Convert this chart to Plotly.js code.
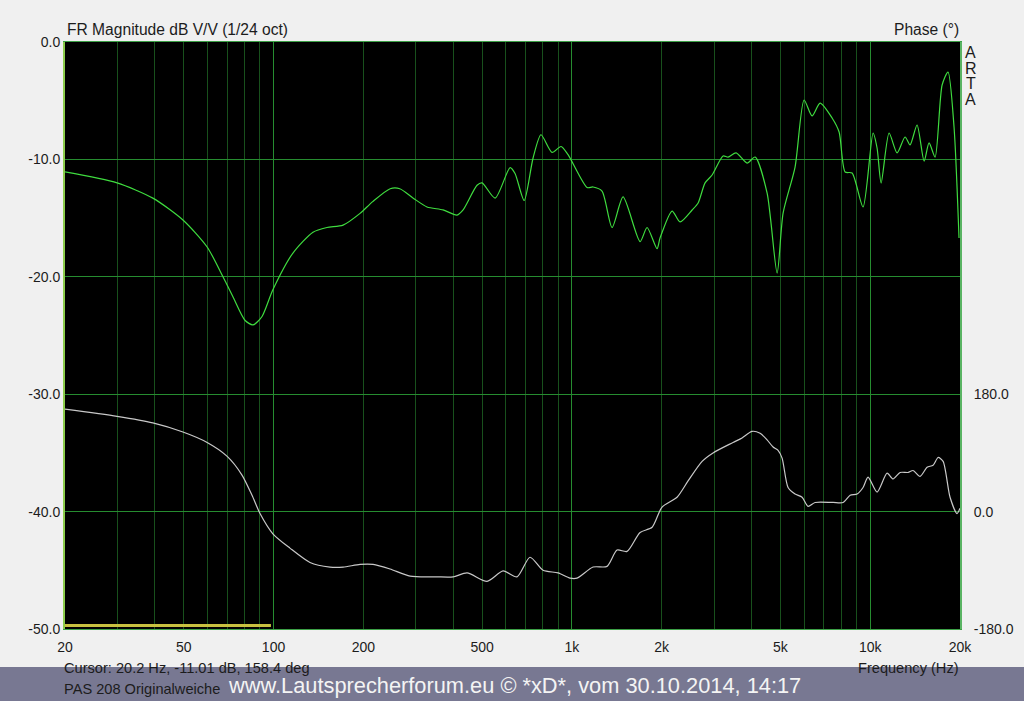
<!DOCTYPE html>
<html>
<head>
<meta charset="utf-8">
<script src="https://cdn.plot.ly/plotly-3.0.1.min.js"></script>
<style>html,body{margin:0;padding:0;background:#f0f0f0;}#chart{width:1024px;height:701px;}</style>
</head>
<body>
<div id="chart"></div>
<script>
// Magnitude (dB) vs frequency (Hz)
const magFreq = [20,29.9,39.4,49.7,59.9,67.7,73.1,80.2,85.3,91.4,99.5,116,135.6,151,171,195,215,246,265,294,327,370,412,432,481,500,553,621,645,692,741,788,858,920,971,1125,1178,1262,1364,1485,1693,1787,1930,1975,2168,2305,2530,2650,2796,2952,3212,3339,3552,3867,4113,4512,4876,5106,5600,6004,6385,6793,7452,7867,8241,8696,9464,10225,10545,10880,11570,12308,13090,13603,14359,15160,15754,16500,17420,18235,19100,19850];
const magDb = [-11.07,-12.0,-13.3,-15.16,-17.46,-20.0,-21.7,-23.7,-24.1,-23.4,-21.1,-18.0,-16.2,-15.8,-15.6,-14.6,-13.6,-12.5,-12.5,-13.3,-14.05,-14.3,-14.74,-14.3,-12.2,-12.0,-13.3,-10.7,-11.2,-13.5,-9.9,-7.9,-9.4,-8.9,-9.6,-12.4,-12.35,-12.7,-15.8,-13.2,-17.0,-15.8,-17.6,-16.7,-14.4,-15.33,-14.31,-13.71,-12.0,-11.33,-9.71,-9.8,-9.45,-10.31,-9.8,-12.86,-19.68,-14.57,-10.65,-4.94,-6.3,-5.2,-6.47,-7.67,-11.07,-11.16,-14.05,-7.75,-9.03,-12.01,-7.75,-9.45,-8.09,-8.77,-7.07,-10.14,-8.6,-9.8,-3.66,-2.56,-7.24,-16.7];

// Phase (deg) vs frequency (Hz)
const phaseFreq = [20,29.9,39.4,49.7,59.9,69.8,78.4,84.7,90.1,99.5,113.5,132.5,154.7,171,195,215.6,245.8,287,353,400,445.5,519.7,588,655,724,800.6,899,986,1041,1178,1312,1417,1531,1693,1858,2006,2252,2452,2732,2973,3470,3720,4018,4276,4512,4727,4911,5067,5305,5600,5912,6192,6536,7510,8115,8566,9040,9464,9838,10545,11393,11932,12595,13395,13922,14694,15512,16248,16890,17555,18520,19545,20000];
const phaseDeg = [157,146,136,122,106,85,56,25,-3,-34,-56,-78,-85,-85,-81,-81,-88,-99,-100,-100,-94,-107,-91,-100,-70,-90,-94,-102,-102,-85,-84,-59,-61,-32,-24,7,22,47,77,90,106,113,123,120,110,99,94,82,37,27,22,8,14,14,14,25,27,37,53,30,59,50,60,60,63,54,68,71,83,77,22,-3,5];

// Marker line at the bottom (20 Hz to ~100 Hz)
const markerFreq = [20, 98];
const markerDb = [-49.7, -49.7];

const xTickVals = [20,50,100,200,500,1000,2000,5000,10000,20000];
const xTickText = ['20','50','100','200','500','1k','2k','5k','10k','20k'];
const xMajorGrid = [100,1000,10000];
const xMinorGrid = [30,40,50,60,70,80,90,200,300,400,500,600,700,800,900,2000,3000,4000,5000,6000,7000,8000,9000];
const magTickVals = [-50,-40,-30,-20,-10,0];
const magTickText = ['-50.0','-40.0','-30.0','-20.0','-10.0','0.0'];
const phaseTickVals = [-180,0,180];
const phaseTickText = ['-180.0','0.0','180.0'];

const L = 65, R = 960, T = 42, B = 629;
const px = x => (x - L) / (R - L);
const py = y => (B - y) / (B - T);
const FONT = 'Liberation Sans, Arial, sans-serif';
const TXT = '#1c1c1c';
const GRID_MAJOR = 'rgb(38,140,48)';
const GRID_MINOR = 'rgb(24,80,28)';

const traces = [
  {x: magFreq, y: magDb, xaxis: 'x', yaxis: 'y', mode: 'lines', line: {color: '#3fdc3f', width: 1.2, shape: 'spline', smoothing: 0.7}, hoverinfo: 'skip'},
  {x: phaseFreq, y: phaseDeg, xaxis: 'x2', yaxis: 'y2', mode: 'lines', line: {color: '#c8c8c8', width: 1.2, shape: 'spline', smoothing: 0.7}, hoverinfo: 'skip'},
  {x: markerFreq, y: markerDb, xaxis: 'x', yaxis: 'y', mode: 'lines', line: {color: '#c8c040', width: 3}, hoverinfo: 'skip'}
];

const ann = (text, x, y, xanchor, size, color) => ({
  text, xref: 'paper', yref: 'paper', x: px(x), y: py(y), xanchor, yanchor: 'middle',
  showarrow: false, font: {family: FONT, size, color: color || TXT}
});

const layout = {
  width: 1024, height: 701,
  paper_bgcolor: '#f0f0f0', plot_bgcolor: '#000000',
  margin: {l: 65, r: 64, t: 42, b: 72, pad: 0},
  showlegend: false,
  xaxis: {
    type: 'log', range: [Math.log10(20), Math.log10(20000)],
    tickvals: xTickVals, ticktext: xTickText, ticks: '', ticklabelstandoff: 5,
    showgrid: false, zeroline: false,
    showline: true, linecolor: 'rgb(60,160,70)', linewidth: 1, mirror: true,
    tickfont: {family: FONT, size: 14, color: TXT},
    minor: {tickvals: xMinorGrid, showgrid: true, gridcolor: GRID_MINOR, gridwidth: 1, ticks: ''}
  },
  xaxis2: {
    type: 'log', range: [Math.log10(20), Math.log10(20000)], overlaying: 'x',
    tickvals: xMajorGrid, showticklabels: false, ticks: '',
    showgrid: true, gridcolor: GRID_MAJOR, gridwidth: 1, zeroline: false, showline: false
  },
  yaxis: {
    range: [-50, 0], tickvals: magTickVals, ticktext: magTickText, ticks: '',
    showgrid: true, gridcolor: GRID_MAJOR, gridwidth: 1, zeroline: false,
    showline: true, linecolor: 'rgb(140,204,76)', linewidth: 2,
    tickfont: {family: FONT, size: 14, color: TXT}
  },
  yaxis2: {
    range: [-180, 720], overlaying: 'y', side: 'right',
    tickvals: phaseTickVals, ticktext: phaseTickText, ticks: '', ticklabelstandoff: 9,
    showgrid: false, zeroline: false,
    showline: true, linecolor: 'rgb(90,180,100)', linewidth: 2,
    tickfont: {family: FONT, size: 14, color: TXT}
  },
  shapes: [
    {type: 'rect', xref: 'paper', yref: 'paper', x0: px(0), x1: px(1024), y0: py(701), y1: py(667),
     fillcolor: '#787892', line: {width: 0}, layer: 'below'}
  ],
  annotations: [
    ann('FR Magnitude dB V/V (1/24 oct)', 65, 30, 'left', 15.6),
    ann('Phase (°)', 961, 30, 'right', 15.6),
    ann('A', 971, 52, 'center', 16),
    ann('R', 971, 68, 'center', 16),
    ann('T', 971, 84, 'center', 16),
    ann('A', 971, 100, 'center', 16),
    ann('Cursor: 20.2 Hz, -11.01 dB, 158.4 deg', 62, 668, 'left', 14.6),
    ann('PAS 208 Originalweiche', 62, 689, 'left', 14.6),
    ann('Frequency (Hz)', 961, 668, 'right', 14.6),
    ann('www.Lautsprecherforum.eu © *xD*, vom 30.10.2014, 14:17', 226, 685, 'left', 21.8, '#f4f4f4')
  ]
};

Plotly.newPlot('chart', traces, layout, {staticPlot: true, displayModeBar: false});
</script>
</body>
</html>
